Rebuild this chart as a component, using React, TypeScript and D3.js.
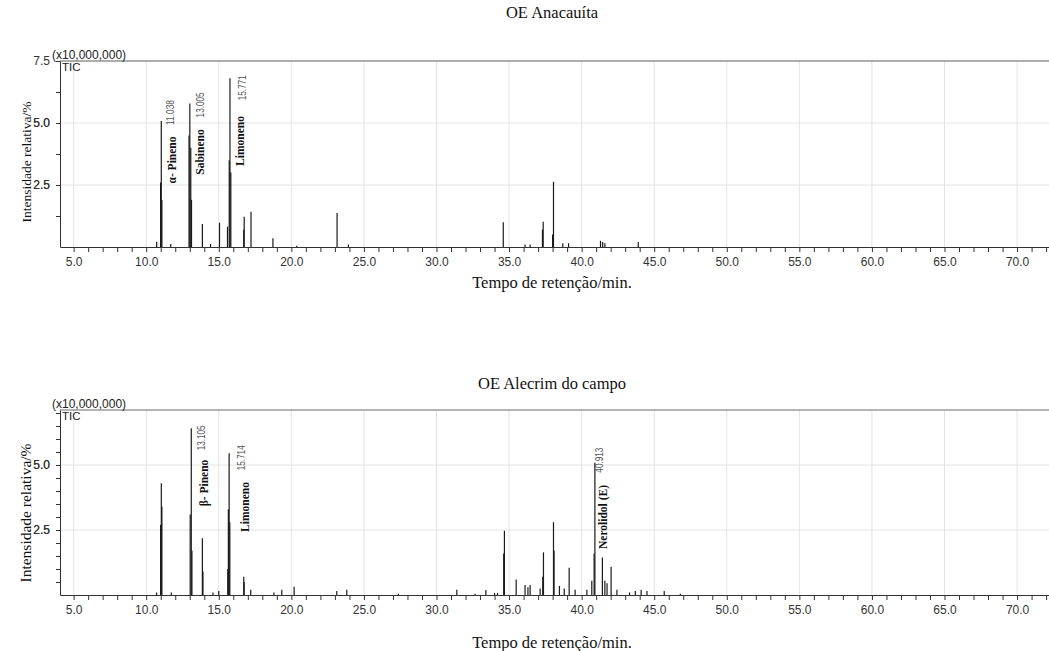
import React, { useEffect, useRef } from 'react';
import * as d3 from 'd3';

// retention time axis (min)
const xTickValues = [5, 10, 15, 20, 25, 30, 35, 40, 45, 50, 55, 60, 65, 70];
const xTickLabels = ['5.0', '10.0', '15.0', '20.0', '25.0', '30.0', '35.0', '40.0', '45.0', '50.0', '55.0', '60.0', '65.0', '70.0'];

// OE Anacauíta - peaks (rt in min, intensity in x10,000,000)
const anacauitaTimes = [
  10.72, 10.99, 11.038, 11.08, 11.69, 12.95, 13.005, 13.07, 13.12, 13.87, 14.43, 15.05, 15.6,
  15.72, 15.771, 15.83, 16.72, 16.75, 17.22, 18.73, 20.37, 23.15, 23.93, 34.6, 36.1, 36.45,
  37.3, 37.35, 38.0, 38.06, 38.7, 39.1, 41.3, 41.45, 41.6, 43.9,
];
const anacauitaHeights = [
  0.21, 2.6, 5.08, 1.9, 0.12, 4.5, 5.79, 4.0, 1.9, 0.93, 0.12, 0.98, 0.82,
  3.5, 6.8, 3.0, 0.7, 1.22, 1.42, 0.35, 0.05, 1.37, 0.1, 1.0, 0.1, 0.1,
  0.7, 1.02, 0.5, 2.63, 0.15, 0.15, 0.25, 0.2, 0.15, 0.2,
];
const anacauitaYTicks = [2.5, 5.0, 7.5];
const anacauitaRtLabels = ['11.038', '13.005', '15.771'];
const anacauitaCompounds = ['α- Pineno', 'Sabineno', 'Limoneno'];

// OE Alecrim do campo - peaks
const alecrimTimes = [
  10.72, 10.99, 11.04, 11.08, 11.73, 13.03, 13.105, 13.15, 13.87, 13.91, 14.6, 15.0, 15.62,
  15.66, 15.714, 15.76, 16.72, 16.75, 17.2, 18.8, 19.34, 20.19, 23.13, 23.82, 27.37, 31.4,
  32.66, 33.4, 34.0, 34.2, 34.63, 34.68, 35.49, 36.1, 36.3, 36.45, 37.14, 37.32, 37.37,
  38.06, 38.1, 38.47, 38.8, 39.14, 39.55, 40.36, 40.7, 40.86, 40.913, 41.43, 41.6, 41.75,
  42.03, 42.43, 43.3, 43.7, 44.1, 44.5, 45.69, 46.8,
];
const alecrimHeights = [
  0.1, 2.7, 4.3, 3.4, 0.1, 3.1, 6.41, 1.7, 2.18, 0.9, 0.1, 0.15, 1.0,
  3.3, 5.45, 2.8, 0.7, 0.5, 0.2, 0.1, 0.2, 0.32, 0.15, 0.2, 0.05, 0.2,
  0.05, 0.19, 0.08, 0.08, 1.6, 2.47, 0.6, 0.38, 0.3, 0.38, 0.25, 0.7, 1.64,
  2.8, 1.7, 0.35, 0.25, 1.05, 0.2, 0.2, 0.55, 1.6, 5.09, 1.44, 0.55, 0.45,
  1.09, 0.2, 0.1, 0.15, 0.2, 0.15, 0.15, 0.05,
];
const alecrimYTicks = [2.5, 5.0];
const alecrimRtLabels = ['13.105', '15.714', '40.913'];
const alecrimCompounds = ['β- Pineno', 'Limoneno', 'Nerolidol (E)'];

const SERIF = '"Liberation Serif", "Times New Roman", serif';
const SANS = '"Liberation Sans", Arial, sans-serif';

const drawPanel = (svg, o) => {
  const x = d3.scaleLinear().domain([4.06, 72.2]).range([60, 1049]);
  const y = d3.scaleLinear().domain([0, o.yMax]).range([o.bottom, o.top]);
  const g = svg.append('g');

  // grid
  g.selectAll('.vgrid').data(xTickValues).join('line')
    .attr('x1', d => x(d)).attr('x2', d => x(d))
    .attr('y1', o.top).attr('y2', o.bottom)
    .attr('stroke', '#e4e4e4').attr('stroke-width', 1);
  g.selectAll('.hgrid').data(o.yTicks).join('line')
    .attr('x1', 60).attr('x2', 1049)
    .attr('y1', d => y(d)).attr('y2', d => y(d))
    .attr('stroke', '#e4e4e4').attr('stroke-width', 1);

  // top frame
  g.append('line').attr('x1', 60).attr('x2', 1049).attr('y1', o.top).attr('y2', o.top)
    .attr('stroke', '#6a6a6a').attr('stroke-width', 1);

  // x axis
  const xa = g.append('g').attr('transform', `translate(0,${o.bottom})`)
    .call(d3.axisBottom(x).tickValues(d3.range(5, 73)).tickSize(5).tickSizeOuter(0)
      .tickFormat(d => { const i = xTickValues.indexOf(d); return i >= 0 ? xTickLabels[i] : ''; }));
  xa.selectAll('.domain, .tick line').attr('stroke', '#333');
  xa.selectAll('text').attr('font-family', SANS).attr('font-size', 12).attr('fill', '#333').attr('dy', '0.95em');

  // y axis
  const ya = g.append('g').attr('transform', 'translate(60,0)')
    .call(d3.axisLeft(y).tickValues(d3.range(o.yMinor, o.yMax, o.yMinor).concat(o.yTicks)).tickSize(4).tickPadding(6).tickSizeOuter(0)
      .tickFormat(d => o.yTicks.some(t => Math.abs(t - d) < 1e-6) ? d3.format('.1f')(d) : ''));
  ya.selectAll('.domain, .tick line').attr('stroke', '#333');
  ya.selectAll('text').attr('font-family', SANS).attr('font-size', 12).attr('fill', '#333');

  // peaks
  const peaks = o.times.map((t, i) => ({ t, h: o.heights[i] }));
  g.selectAll('.peak').data(peaks).join('line')
    .attr('x1', d => x(d.t)).attr('x2', d => x(d.t))
    .attr('y1', y(0)).attr('y2', d => y(d.h))
    .attr('stroke', '#1a1a1a').attr('stroke-width', 1.2);

  // annotations
  o.rtLabels.forEach((lab, i) => {
    const rt = +lab;
    const p = peaks.find(d => Math.abs(d.t - rt) < 1e-6);
    const px = x(rt), py = y(p.h);
    const L = o.layout[i];
    g.append('text')
      .attr('transform', `translate(${px + L.dx},${py + L.dy}) rotate(-90)`)
      .attr('font-family', SANS).attr('font-size', 10).attr('fill', '#555')
      .attr('textLength', 25).attr('lengthAdjust', 'spacingAndGlyphs')
      .text(lab);
    g.append('text')
      .attr('transform', `translate(${px + L.ndx},${o.top + L.ny}) rotate(-90)`)
      .attr('text-anchor', 'middle')
      .attr('font-family', SERIF).attr('font-size', 11.5).attr('font-weight', 'bold').attr('fill', '#111')
      .text(o.compounds[i]);
  });

  // texts
  svg.append('text').attr('x', 552).attr('y', o.titleY).attr('text-anchor', 'middle')
    .attr('font-family', SERIF).attr('font-size', 16.5).attr('fill', '#111').text(o.title);
  svg.append('text').attr('x', 52).attr('y', o.top - 2)
    .attr('font-family', SANS).attr('font-size', 12).attr('fill', '#222').text('(x10,000,000)');
  svg.append('text').attr('x', 62).attr('y', o.top + 10)
    .attr('font-family', SANS).attr('font-size', 11.5).attr('fill', '#222').text('TIC');
  svg.append('text').attr('x', 552).attr('y', o.xTitleY).attr('text-anchor', 'middle')
    .attr('font-family', SERIF).attr('font-size', 16.5).attr('fill', '#111').text('Tempo de retenção/min.');
  svg.append('text')
    .attr('transform', `translate(31,${o.yTitleY}) rotate(-90)`).attr('text-anchor', 'middle')
    .attr('font-family', SERIF).attr('font-size', o.yTitleSize).attr('fill', '#111').text('Intensidade relativa/%');
};

const App = () => {
  const ref = useRef(null);

  useEffect(() => {
    const svg = d3.select(ref.current);
    svg.selectAll('*').remove();

    drawPanel(svg, {
      title: 'OE Anacauíta', titleY: 18, xTitleY: 288, yTitleY: 162, yTitleSize: 13.5,
      top: 61, bottom: 247, yMax: 7.5, yMinor: 1.25, yTicks: anacauitaYTicks,
      times: anacauitaTimes, heights: anacauitaHeights,
      rtLabels: anacauitaRtLabels, compounds: anacauitaCompounds,
      layout: [
        { dx: 12.7, dy: 4, ndx: 14.7, ny: 99 },
        { dx: 13.7, dy: 14, ndx: 14.2, ny: 91 },
        { dx: 15.6, dy: 22, ndx: 14.1, ny: 80 },
      ],
    });

    drawPanel(svg, {
      title: 'OE Alecrim do campo', titleY: 389, xTitleY: 648, yTitleY: 513, yTitleSize: 15.5,
      top: 410, bottom: 595, yMax: 185 / 26, yMinor: 0.5, yTicks: alecrimYTicks,
      times: alecrimTimes, heights: alecrimHeights,
      rtLabels: alecrimRtLabels, compounds: alecrimCompounds,
      layout: [
        { dx: 14.2, dy: 22, ndx: 16.7, ny: 73 },
        { dx: 15.4, dy: 17, ndx: 19.9, ny: 97 },
        { dx: 8.3, dy: 10, ndx: 12.3, ny: 107 },
      ],
    });
  }, []);

  return (
    <svg ref={ref} width={1049} height={651}
      style={{ position: 'absolute', left: 0, top: 0, background: '#fff' }} />
  );
};

export default App;
